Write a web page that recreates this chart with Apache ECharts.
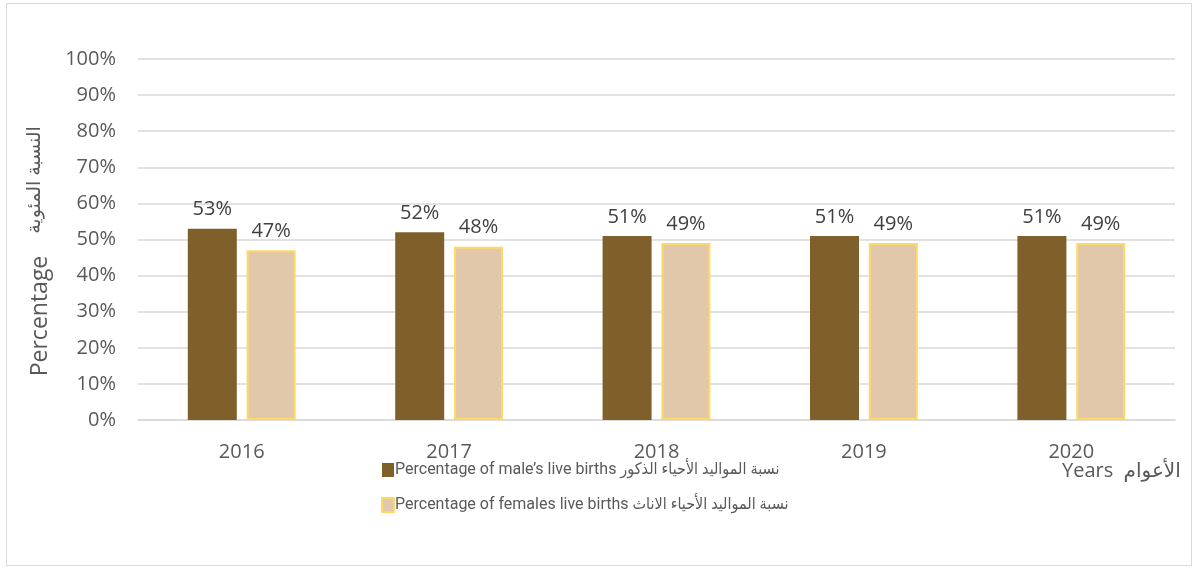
<!DOCTYPE html>
<html>
<head>
<meta charset="utf-8">
<script src="https://cdn.jsdelivr.net/npm/echarts@6/dist/echarts.min.js"></script>
<style>
  html, body { margin: 0; padding: 0; background: #fff; }
  #chart { width: 1201px; height: 568px; }
  .frame { position: absolute; left: 6px; top: 3px; width: 1184px; height: 561px; border: 1px solid #d9d9d9; pointer-events: none; }
</style>
</head>
<body>
<div id="chart"></div>
<div class="frame"></div>
<script>
  // data
  var years = ['2016', '2017', '2018', '2019', '2020'];
  var maleShare = [53, 52, 51, 51, 51];
  var femaleShare = [47, 48, 49, 49, 49];
  var maleName = 'Percentage of male’s live births نسبة المواليد الأحياء الذكور';
  var femaleName = 'Percentage of females live births نسبة المواليد الأحياء الاناث';

  var fontFam = '"Open Sans", "DejaVu Sans", sans-serif';
  var narrowFam = 'Roboto, "DejaVu Sans Condensed", sans-serif';
  var chart = echarts.init(document.getElementById('chart'));

  var option = {
    animation: false,
    textStyle: { fontFamily: fontFam },
    grid: { left: 138, right: 26, top: 59, bottom: 148 },
    legend: {
      orient: 'vertical',
      left: 376,
      top: 457,
      itemWidth: 12,
      itemHeight: 14,
      itemGap: 19,
      icon: 'rect',
      textStyle: { fontSize: 16, color: '#595959', fontFamily: narrowFam, padding: [0, 0, 0, -4] },
      data: [maleName, femaleName]
    },
    xAxis: {
      type: 'category',
      data: years,
      axisLine: { lineStyle: { color: '#d9d9d9', width: 1.5 } },
      axisTick: { show: false },
      axisLabel: { fontSize: 20, color: '#595959', margin: 22 }
    },
    yAxis: {
      type: 'value',
      min: 0,
      max: 100,
      interval: 10,
      axisLine: { show: false },
      axisTick: { show: false },
      splitLine: { lineStyle: { color: '#d9d9d9', width: 1.5 } },
      axisLabel: { fontSize: 20, color: '#595959', margin: 22, formatter: '{value}%' }
    },
    graphic: [
      {
        type: 'text', left: 1062, top: 461,
        style: { text: 'Years  الأعوام', fontSize: 20, fill: '#595959', fontFamily: fontFam }
      },
      {
        type: 'text', x: 40, y: 316, rotation: Math.PI / 2,
        style: { text: 'Percentage', fontSize: 23, fill: '#595959', align: 'center', verticalAlign: 'middle', fontFamily: fontFam }
      },
      {
        type: 'text', x: 35, y: 180, rotation: Math.PI / 2,
        style: { text: 'النسبة المئوية', fontSize: 19, fill: '#595959', align: 'center', verticalAlign: 'middle', fontFamily: fontFam }
      }
    ],
    series: [
      {
        name: maleName,
        type: 'bar',
        data: maleShare,
        barWidth: 49,
        barGap: '20%',
        itemStyle: { color: '#7f5f2a' },
        label: { show: true, position: 'top', distance: 9, fontSize: 20, color: '#404040', formatter: '{c}%' }
      },
      {
        name: femaleName,
        type: 'bar',
        data: femaleShare,
        barWidth: 49,
        itemStyle: { color: '#e2c8ab', borderColor: '#ffd966', borderWidth: 2 },
        label: { show: true, position: 'top', distance: 9, fontSize: 20, color: '#404040', formatter: '{c}%' }
      }
    ]
  };

  chart.setOption(option);
</script>
</body>
</html>
